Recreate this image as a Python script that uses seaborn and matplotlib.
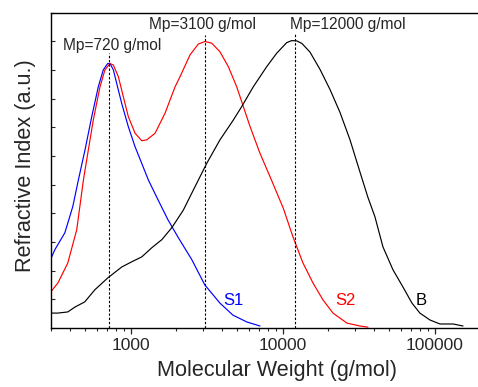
import numpy as np
import matplotlib
matplotlib.use("Agg")
import matplotlib.pyplot as plt
import seaborn as sns
from matplotlib.ticker import FixedLocator, NullFormatter

# values (molecular weight in g/mol, RI signal in a.u.)
s1_mw = [299, 318, 370, 417, 454, 502, 556, 614, 662, 708, 733, 771, 811, 875, 967, 1071,
         1185, 1310, 1513, 1760, 2046, 2530, 3080, 3870, 4710, 5820, 7100]
s1_ri = [2.41, 2.73, 3.32, 4.23, 5.16, 6.21, 7.37, 8.41, 9.00, 9.22, 9.22, 9.00, 8.53, 7.83, 7.02, 6.32,
         5.74, 5.16, 4.48, 3.78, 3.18, 2.38, 1.50, 0.87, 0.45, 0.21, 0.07]

s2_mw = [299, 333, 387, 443, 490, 528, 569, 630, 679, 733, 771, 832, 897, 967, 1071, 1185,
         1279, 1450, 1686, 1963, 2115, 2460, 2790, 3090, 3420, 3873, 4398, 4990, 5517, 6110,
         7100, 8260, 10110, 11690, 13600, 15830, 18420, 21430, 26500, 32260, 36400]
s2_ri = [1.26, 1.57, 2.27, 3.43, 5.16, 6.21, 7.25, 8.41, 9.00, 9.22, 9.17, 8.76, 8.06, 7.37, 6.79, 6.53,
         6.56, 6.79, 7.49, 8.41, 8.76, 9.52, 9.90, 9.99, 9.93, 9.63, 9.11, 8.41, 7.72, 7.02,
         6.09, 5.28, 4.17, 3.18, 2.27, 1.57, 0.98, 0.52, 0.17, 0.07, 0.03]

b_mw = [299, 333, 387, 431, 500, 582, 710, 877, 1020, 1186, 1381, 1606, 1870, 2224, 2588,
        3170, 3873, 4740, 5383, 6415, 7857, 9140, 10640, 11480, 12390, 13400, 15130, 17600,
        20470, 23820, 27700, 32200, 36400, 40440, 45660, 53150, 61820, 70830, 79900, 93000,
        108300, 131900, 153500]
b_ri = [0.52, 0.52, 0.56, 0.73, 0.91, 1.33, 1.75, 2.13, 2.31, 2.48, 2.80, 3.08, 3.50, 4.11, 4.81,
        5.74, 6.56, 7.25, 7.72, 8.41, 9.11, 9.58, 9.95, 10.02, 10.01, 9.92, 9.62, 9.02,
        8.32, 7.52, 6.57, 5.45, 4.55, 3.88, 2.83, 2.03, 1.43, 0.87, 0.52, 0.28,
        0.14, 0.14, 0.07]

peak_mw = [720, 3100, 12000]
peak_top = [9.6, 10.2, 10.28]
peak_text = ["Mp=720 g/mol", "Mp=3100 g/mol", "Mp=12000 g/mol"]

series_names = ["S1", "S2", "B"]
series_colors = ["blue", "red", "black"]

sns.set_style("ticks")
plt.rcParams["font.family"] = ["Liberation Sans", "DejaVu Sans"]

fig = plt.figure(figsize=(4.78, 3.87), dpi=100)
ax = fig.add_axes([51 / 478, 59 / 387, 429.5 / 478, 315.5 / 387])
ax.set_xscale("log")

for mw, ri, col in zip([s1_mw, s2_mw, b_mw], [s1_ri, s2_ri, b_ri], series_colors):
    sns.lineplot(x=mw, y=ri, color=col, lw=0.85, ax=ax, sort=False)

# dashed markers at the peak maxima
for m, top in zip(peak_mw, peak_top):
    ax.plot([m, m], [0, top], color="black", lw=0.8, ls=(0, (2.2, 1.6)))

ax.text(755, 9.69, peak_text[0], ha="center", va="baseline", fontsize=11.2)
ax.text(2960, 10.41, peak_text[1], ha="center", va="baseline", fontsize=11.2)
ax.text(11170, 10.41, peak_text[2], ha="left", va="baseline", fontsize=11.2)

ax.text(4720, 0.8, series_names[0], color=series_colors[0], ha="center", va="baseline", fontsize=12)
ax.text(26000, 0.8, series_names[1], color=series_colors[1], ha="center", va="baseline", fontsize=12)
ax.text(81300, 0.8, series_names[2], color=series_colors[2], ha="center", va="baseline", fontsize=12)

ax.set_xlim(300, 200000)
ax.set_ylim(0, 11)

major = [1000, 10000, 100000]
minor = [m * d for d in [100, 1000, 10000] for m in range(2, 10) if 300 <= m * d <= 200000]
ax.xaxis.set_major_locator(FixedLocator(major))
ax.xaxis.set_minor_locator(FixedLocator(minor))
ax.set_xticklabels(["1000", "10000", "100000"])
ax.xaxis.set_minor_formatter(NullFormatter())
ax.tick_params(axis="x", which="major", direction="out", length=4.2, width=0.9,
               labelsize=12.6, pad=3, top=False)
ax.tick_params(axis="x", which="minor", direction="out", length=2.3, width=0.8, top=False)

ax.set_yticks(np.arange(0, 12, 1))
ax.tick_params(axis="y", direction="in", length=2.6, width=0.8, labelleft=False, right=False)

for sp in ax.spines.values():
    sp.set_linewidth(1.0)
    sp.set_color("black")

ax.set_xlabel("Molecular Weight (g/mol)", fontsize=15.6, labelpad=5, x=0.526)
ax.set_ylabel("Refractive Index (a.u.)", fontsize=15.6, labelpad=11, y=0.515)

fig.savefig("out.png", dpi=100)
